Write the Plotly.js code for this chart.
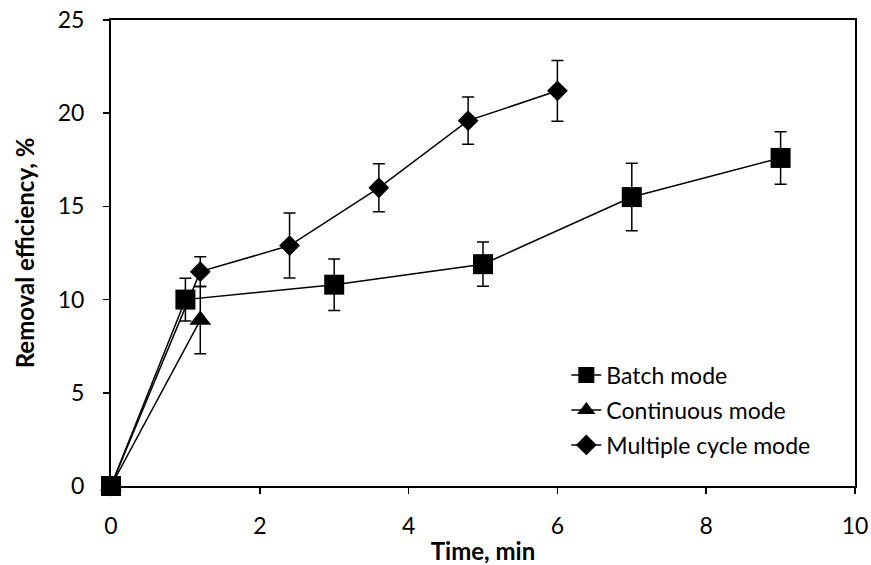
<!DOCTYPE html>
<html>
<head>
<meta charset="utf-8">
<script src="https://cdn.plot.ly/plotly-3.0.1.min.js"></script>
<style>html,body{margin:0;padding:0;background:#fff;}#chart{width:871px;height:565px;}</style>
</head>
<body>
<div id="chart"></div>
<script>
// Data
const batchX = [0, 1, 3, 5, 7, 9];
const batchY = [0, 10.0, 10.8, 11.9, 15.5, 17.6];
const batchErr = [0, 1.15, 1.38, 1.19, 1.81, 1.41];

const contX = [0, 1.2];
const contY = [0, 8.9];
const contErr = [0, 1.8];

const multiX = [0, 1.2, 2.4, 3.6, 4.8, 6.0];
const multiY = [0, 11.5, 12.9, 16.0, 19.6, 21.2];
const multiErr = [0, 0.8, 1.74, 1.29, 1.27, 1.63];

const seriesNames = ["Batch mode", "Continuous mode", "Multiple cycle mode"];
const xTicks = [0, 2, 4, 6, 8, 10];
const yTicks = [0, 5, 10, 15, 20, 25];

const FONT = "Lato, 'Open Sans', sans-serif";
const FS = 23;

function errBar(arr) {
  return {type: 'data', array: arr, visible: true, color: '#000', thickness: 1.5, width: 6};
}

const traces = [
  {x: batchX, y: batchY, name: seriesNames[0], legendgroup: 'a', mode: 'lines+markers', type: 'scatter',
   cliponaxis: false,
   line: {color: '#000', width: 1.5},
   marker: {symbol: 'square', size: 20, color: '#000'},
   error_y: errBar(batchErr)},
  {x: contX, y: contY, name: seriesNames[1], legendgroup: 'b', mode: 'lines+markers', type: 'scatter',
   cliponaxis: false,
   line: {color: '#000', width: 1.5},
   marker: {symbol: 'triangle-up', size: 19, color: '#000'},
   error_y: errBar(contErr)},
  {x: multiX, y: multiY, name: seriesNames[2], legendgroup: 'c', mode: 'lines+markers', type: 'scatter',
   cliponaxis: false,
   line: {color: '#000', width: 1.5},
   marker: {symbol: 'diamond', size: 16, color: '#000'},
   error_y: errBar(multiErr)}
];

const layout = {
  width: 871, height: 565,
  margin: {l: 111, r: 16, t: 20, b: 79},
  paper_bgcolor: '#fff', plot_bgcolor: '#fff',
  font: {family: FONT, size: FS, color: '#000'},
  showlegend: true,
  legend: {x: 0.612, y: 0.284, xanchor: 'left', yanchor: 'top', bgcolor: 'rgba(0,0,0,0)',
           font: {family: FONT, size: FS, color: '#000'}, traceorder: 'grouped', tracegroupgap: 2, itemwidth: 30},
  xaxis: {range: [0, 10], tickvals: xTicks, ticktext: xTicks.map(String),
          showgrid: false, zeroline: false, showline: true, linecolor: '#000', linewidth: 2,
          mirror: true, ticks: 'outside', ticklen: 6, tickwidth: 1.5, tickcolor: '#000',
          ticklabelstandoff: 12,
          tickfont: {family: FONT, size: FS, color: '#000'},
          title: {text: '<b>Time, min</b>', font: {family: FONT, size: 24, color: '#000'}, standoff: 6}},
  yaxis: {range: [0, 25], tickvals: yTicks, ticktext: yTicks.map(String),
          showgrid: false, zeroline: false, showline: true, linecolor: '#000', linewidth: 2,
          mirror: true, ticks: 'outside', ticklen: 6, tickwidth: 1.5, tickcolor: '#000',
          ticklabelstandoff: 14,
          tickfont: {family: FONT, size: FS, color: '#000'},
          title: {text: '<b>Removal efficiency, %</b>', font: {family: FONT, size: 24, color: '#000'}, standoff: 16}}
};

Plotly.newPlot('chart', traces, layout, {displayModeBar: false, staticPlot: true});
</script>
</body>
</html>
